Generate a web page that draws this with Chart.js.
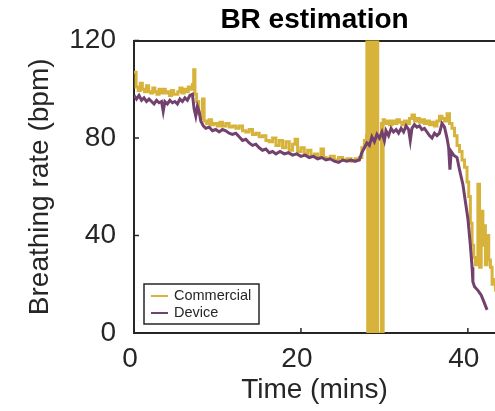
<!DOCTYPE html>
<html>
<head>
<meta charset="utf-8">
<script src="https://cdn.jsdelivr.net/npm/chart.js@4"></script>
<style>
  html, body { margin: 0; padding: 0; background: #fff; }
  canvas { display: block; }
</style>
</head>
<body>
<canvas id="brChart" width="495" height="411"></canvas>
<script>
// BR estimation - commercial belt vs device
const seriesLabels = ['Commercial', 'Device'];
const xTicks = [0, 20, 40];
const yTicks = [0, 40, 80, 120];

const commercialTime = [
  0, 0.25, 0.5, 0.75, 1.0, 1.25, 1.5, 1.75, 2.0, 2.25, 2.5, 2.75, 3.0, 3.25, 3.5, 3.75,
  4.0, 4.25, 4.5, 4.75, 5.0, 5.25, 5.5, 5.75, 6.0, 6.25, 6.5, 6.75, 7.0, 7.15, 7.3, 7.5,
  7.75, 8.0, 8.2, 8.4, 8.7, 9.0, 9.3, 9.6, 10.0, 10.3, 10.6, 11.0, 11.4, 11.8, 12.2, 12.6,
  13.0, 13.4, 13.8, 14.2, 14.6, 15.0, 15.4, 15.8, 16.2, 16.6, 17.0, 17.4, 17.8, 18.2, 18.6, 19.0,
  19.3, 19.6, 20.0, 20.4, 20.8, 21.2, 21.6, 22.0, 22.4, 22.7, 23.0, 23.5, 24.0, 24.5, 25.0, 25.5,
  26.0, 26.5, 27.0, 27.3, 27.6, 27.85,
  27.9, 28.0, 28.1, 28.2, 28.3, 28.4, 28.5, 28.6, 28.7, 28.8, 28.9, 29.0, 29.1, 29.2,
  29.65, 29.75, 29.85, 30.0, 30.3, 30.6, 30.9, 31.2, 31.5, 31.8, 32.1, 32.4, 32.7, 33.0, 33.3, 33.6,
  33.9, 34.2, 34.5, 34.8, 35.1, 35.4, 35.7, 36.0, 36.3, 36.6, 36.9, 37.2, 37.5, 37.8, 38.1, 38.4,
  38.7, 39.0, 39.3, 39.6, 39.9, 40.1, 40.3, 40.5, 40.7, 40.9, 41.2, 41.4, 41.6, 41.8, 41.9, 42.1,
  42.3, 42.5, 42.7, 42.9, 43.1, 43.3
];
const commercialRate = [
  107, 101, 99.5, 102.5, 100, 99, 101.5, 99, 98.5, 100.5, 99, 98, 100, 98.5, 100, 98.5,
  99, 97.5, 99.5, 98, 98, 99, 100.5, 98.5, 100, 99, 101, 100, 102, 108, 98, 95,
  90, 88, 96, 87, 86, 87.5, 85.5, 86, 85, 86.5, 85, 86, 84.5, 85, 84, 85,
  83, 82.5, 83.5, 81.5, 82, 80.5, 81, 79, 78.5, 80, 77, 79, 76, 78.5, 75, 77.5,
  79.5, 74.5, 76, 73.5, 75, 72.5, 73.5, 72, 75.5, 72, 71.5, 72.5, 71, 72, 71, 71.5,
  70.5, 71.5, 72, 76, 79, 81,
  130, 0, 130, 0, 130, 0, 130, 0, 130, 0, 130, 0, 130, 0,
  86, 0, 87.5, 86, 87, 85.5, 87, 86, 87.5, 86.5, 85.5, 87, 86, 88, 89.5, 87,
  88, 86.5, 87.5, 86, 87, 85.5, 86.5, 85, 87, 89, 88, 87, 90, 86, 84, 81,
  77, 74.5, 71, 68, 62, 56, 45, 36, 31, 28, 61, 27, 50, 36, 44, 28,
  40, 30, 27, 20, 22, 17
];

const deviceTime = [
  0, 0.3, 0.6, 0.9, 1.2, 1.5, 1.8, 2.1, 2.4, 2.7, 3.0, 3.3, 3.5, 3.7, 4.0, 4.3,
  4.6, 4.9, 5.2, 5.5, 5.8, 6.1, 6.4, 6.7, 7.0, 7.2, 7.4, 7.6, 7.8, 8.0, 8.3, 8.6,
  9.0, 9.4, 9.8, 10.2, 10.6, 11.0, 11.4, 11.8, 12.2, 12.6, 13.0, 13.4, 13.8, 14.2, 14.6, 15.0,
  15.4, 15.8, 16.2, 16.6, 17.0, 17.5, 18.0, 18.5, 19.0, 19.5, 20.0, 20.5, 21.0, 21.5, 22.0, 22.5,
  23.0, 23.5, 24.0, 24.5, 25.0, 25.5, 26.0, 26.5, 27.0, 27.3, 27.6, 27.9, 28.2, 28.5, 28.8, 29.1,
  29.4, 29.7, 30.0, 30.2, 30.5, 30.8, 31.1, 31.4, 31.7, 32.0, 32.3, 32.6, 32.9, 33.1, 33.3, 33.6,
  33.9, 34.2, 34.5, 34.8, 35.1, 35.4, 35.7, 36.0, 36.3, 36.6, 36.9, 37.2, 37.5, 37.7, 37.85, 38.0,
  38.3, 38.7, 39.0, 39.4, 39.7, 40.0, 40.3, 40.5, 40.6, 40.8, 41.2, 41.6, 41.9, 42.3
];
const deviceRate = [
  97.5, 96, 97.5, 95.5, 96.5, 95, 96, 95, 94, 95.5, 94.5, 95, 91, 95, 94, 95.5,
  94.5, 95, 94, 96, 95, 96.5, 95.5, 97.5, 98, 92, 89, 93, 91, 87, 85, 84,
  84.5, 83, 83.5, 82.5, 83.5, 83, 82, 81.5, 82, 80.5, 79, 79.5, 78, 77, 77.5, 76,
  75, 75.5, 74, 74.5, 73.5, 74.5, 73.5, 74, 73, 73.5, 72.5, 73, 72, 72.5, 71.5, 72,
  71, 71.5, 70.5, 70, 71, 70.5, 71, 70.5, 71, 74, 76, 78, 77, 80.5, 78.5, 81.5,
  80, 82.5, 79, 83, 81, 84, 82.5, 83.5, 82, 84, 82.5, 85, 83.5, 79, 84, 85.5,
  84.5, 85, 83.5, 84, 82.5, 81, 80, 82, 81, 82, 86, 84.5, 80, 76, 67, 74.5,
  73, 72, 67, 61, 54, 47, 36, 27, 21, 19, 17.5, 15.5, 13, 9.5
];

const commercialColor = '#D7B33B';
const deviceColor = '#73416D';
const inkColor = '#262626';
const fontFamily = '"Liberation Sans", Arial, Helvetica, sans-serif';

function toPoints(xs, ys){
  return xs.map((x, i) => ({x: x, y: ys[i]}));
}

// inward tick marks, matlab style
const innerTicks = {
  id: 'innerTicks',
  afterDatasetsDraw(chart){
    const {ctx, chartArea, scales} = chart;
    ctx.save();
    ctx.strokeStyle = inkColor;
    ctx.lineWidth = 1.5;
    ctx.beginPath();
    xTicks.forEach(v => {
      const px = scales.x.getPixelForValue(v);
      ctx.moveTo(px, chartArea.bottom);
      ctx.lineTo(px, chartArea.bottom - 5);
    });
    yTicks.forEach(v => {
      const py = scales.y.getPixelForValue(v);
      ctx.moveTo(chartArea.left, py);
      ctx.lineTo(chartArea.left + 5, py);
    });
    ctx.stroke();
    ctx.restore();
  }
};

// legend box in lower left corner
const boxLegend = {
  id: 'boxLegend',
  afterDraw(chart){
    const {ctx, chartArea} = chart;
    const x0 = chartArea.left + 10, y0 = chartArea.bottom - 49;
    const w = 115, h = 40;
    ctx.save();
    ctx.fillStyle = '#fff';
    ctx.fillRect(x0, y0, w, h);
    ctx.strokeStyle = inkColor;
    ctx.lineWidth = 1.5;
    ctx.strokeRect(x0, y0, w, h);
    const colors = [commercialColor, deviceColor];
    ctx.font = '14.5px ' + fontFamily;
    ctx.textBaseline = 'middle';
    seriesLabels.forEach((lab, i) => {
      const yy = y0 + 12 + i * 17;
      ctx.strokeStyle = colors[i];
      ctx.lineWidth = 2;
      ctx.beginPath();
      ctx.moveTo(x0 + 7, yy);
      ctx.lineTo(x0 + 24, yy);
      ctx.stroke();
      ctx.fillStyle = inkColor;
      ctx.fillText(lab, x0 + 30, yy);
    });
    ctx.restore();
  }
};

new Chart(document.getElementById('brChart'), {
  type: 'line',
  data: {
    datasets: [
      {
        label: seriesLabels[1],
        data: toPoints(deviceTime, deviceRate),
        borderColor: deviceColor,
        borderWidth: 3,
        pointRadius: 0,
        tension: 0
      },
      {
        label: seriesLabels[0],
        data: toPoints(commercialTime, commercialRate),
        borderColor: commercialColor,
        borderWidth: 3,
        pointRadius: 0,
        stepped: true
      }
    ]
  },
  options: {
    responsive: false,
    animation: false,
    devicePixelRatio: 1,
    layout: {padding: 0},
    plugins: {
      legend: {display: false},
      tooltip: {enabled: false},
      title: {
        display: true,
        text: 'BR estimation',
        fullSize: false,
        color: '#000',
        font: {family: fontFamily, size: 28, weight: 'bold'},
        padding: {top: 3, bottom: 4}
      }
    },
    scales: {
      x: {
        type: 'linear',
        min: 0,
        max: 43.25,
        afterFit: s => { s.height = 78; },
        afterBuildTicks: s => { s.ticks = xTicks.map(v => ({value: v})); },
        grid: {display: false, drawTicks: false},
        border: {display: true, color: inkColor, width: 2},
        ticks: {color: inkColor, font: {family: fontFamily, size: 28}, padding: 9, labelOffset: -4},
        title: {display: true, text: 'Time (mins)', color: inkColor, font: {family: fontFamily, size: 28}, padding: {top: 0, bottom: 4}}
      },
      xTop: {
        type: 'linear',
        position: 'top',
        min: 0,
        max: 43.25,
        afterFit: s => { s.height = 0; },
        grid: {display: false, drawTicks: false},
        border: {display: true, color: inkColor, width: 2},
        ticks: {display: false}
      },
      y: {
        min: 0,
        max: 120,
        afterFit: s => { s.width = 134; },
        afterBuildTicks: s => { s.ticks = yTicks.map(v => ({value: v})); },
        grid: {display: false, drawTicks: false},
        border: {display: true, color: inkColor, width: 2},
        ticks: {color: inkColor, font: {family: fontFamily, size: 28}, padding: 18},
        title: {display: true, text: 'Breathing rate (bpm)', color: inkColor, font: {family: fontFamily, size: 28}, padding: {top: 23, bottom: 0}}
      }
    }
  },
  plugins: [innerTicks, boxLegend]
});
</script>
</body>
</html>
